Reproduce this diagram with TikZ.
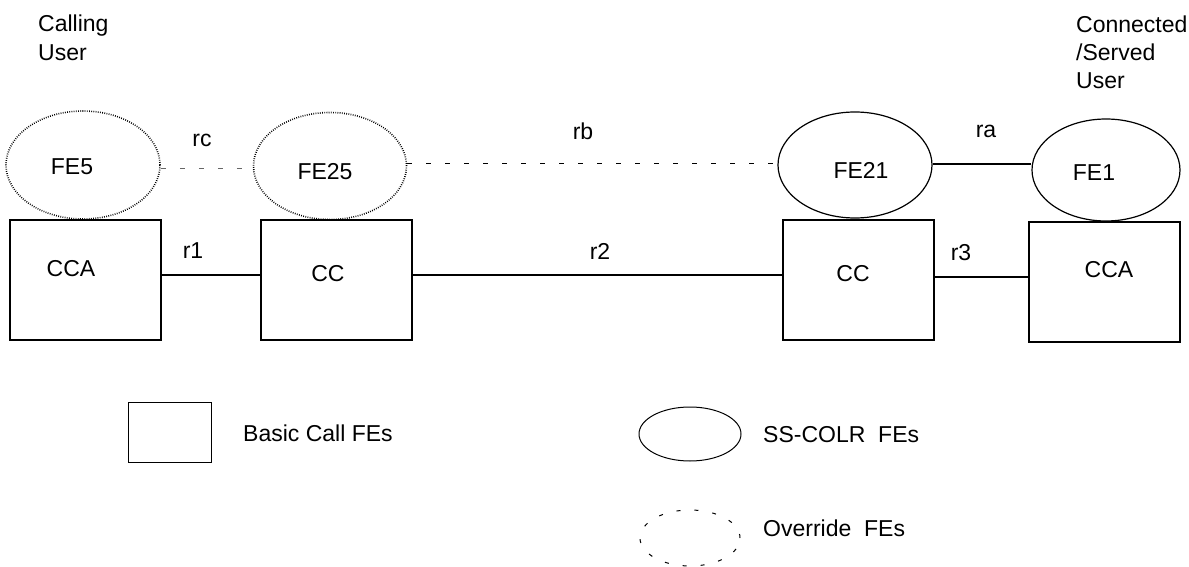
\documentclass[tikz,border=0pt]{standalone}
\usepackage{fontspec}
\setmainfont{Liberation Sans}
\usetikzlibrary{shapes.geometric}
\begin{document}
\begin{tikzpicture}[x=1pt,y=-1pt,
  every node/.style={font=\fontsize{23}{27}\selectfont},
  txt/.style={inner sep=0pt, anchor=center},
  ltxt/.style={inner sep=0pt, anchor=west},
  febox/.style={draw, line width=1.2pt, rectangle, inner sep=0pt},
  feell/.style={draw, line width=1.2pt, ellipse, inner sep=0pt},
  ovell/.style={draw, line width=1.6pt, ellipse, inner sep=0pt, dash pattern=on 0.8pt off 1.4pt},
  conn/.style={line width=1.2pt},
  dashconn/.style={line width=1pt, dash pattern=on 5pt off 14pt}
]
\useasboundingbox (0,0) rectangle (1189,567);
% users
\node[ltxt, align=left] (calling) at (38,38) {Calling\\[2pt]User};
\node[ltxt, align=left] (connected) at (1076,52) {Connected\\[1pt]/Served\\[1pt]User};
% ellipses
\node[ovell, minimum width=154pt, minimum height=108pt] (fe5) at (83,165) {};
\node[ovell, minimum width=153pt, minimum height=107pt] (fe25) at (330,166) {};
\node[feell, minimum width=154pt, minimum height=106pt] (fe21) at (855,165) {};
\node[feell, minimum width=148pt, minimum height=102pt] (fe1) at (1106,170) {};
\node[txt] (fe5t) at (72,167) {FE5};
\node[txt] (fe25t) at (325,172) {FE25};
\node[txt] (fe21t) at (861,170) {FE21};
\node[txt] (fe1t) at (1094,173) {FE1};
% boxes
\node[febox, minimum width=151pt, minimum height=120pt] (cca1) at (85.5,280) {};
\node[febox, minimum width=151pt, minimum height=120pt] (cc1) at (336.5,280) {};
\node[febox, minimum width=151pt, minimum height=120pt] (cc2) at (858.5,280) {};
\node[febox, minimum width=151pt, minimum height=120pt] (cca2) at (1104.5,282) {};
\node[txt] (cca1t) at (71,269) {CCA};
\node[txt] (cc1t) at (328,274) {CC};
\node[txt] (cc2t) at (853,274) {CC};
\node[txt] (cca2t) at (1109,270) {CCA};
% connectors
\draw[dashconn, gray!80!black] (fe5.east |- 0,169) -- (fe25.west |- 0,169);
\draw[dashconn] (fe25.east |- 0,164) -- (fe21.west |- 0,164);
\draw[conn] (fe21.east |- 0,164) -- (fe1.west |- 0,164);
\draw[conn] (cca1.east |- 0,275) -- (cc1.west |- 0,275);
\draw[conn] (cc1.east |- 0,275) -- (cc2.west |- 0,275);
\draw[conn] (cc2.east |- 0,277) -- (cca2.west |- 0,277);
% labels
\node[txt] (rc) at (202,140) {rc};
\node[txt] (rb) at (583,131) {rb};
\node[txt] (ra) at (986,131) {ra};
\node[txt] (r1) at (193,251) {r1};
\node[txt] (r2) at (600,251) {r2};
\node[txt] (r3) at (961,253) {r3};
% legend
\node[draw, line width=1pt, rectangle, inner sep=0pt, minimum width=83pt, minimum height=60pt] (lbox) at (169.5,432) {};
\node[ltxt] (lboxt) at (243,433) {Basic Call FEs};
\node[draw, line width=1pt, ellipse, inner sep=0pt, minimum width=102pt, minimum height=54pt] (lell) at (690,434) {};
\node[ltxt] (lellt) at (763,435) {SS-COLR\ \ FEs};
\node[draw, line width=1pt, ellipse, inner sep=0pt, minimum width=100pt, minimum height=56pt, dash pattern=on 4pt off 14pt] (lov) at (690,538) {};
\node[ltxt] (lovt) at (763,528) {Override\ \ FEs};
\end{tikzpicture}
\end{document}
